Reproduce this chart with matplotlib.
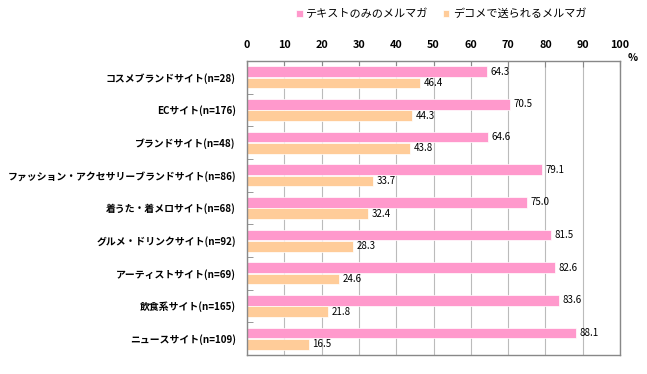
import matplotlib
matplotlib.use("Agg")
import matplotlib.pyplot as plt
import numpy as np

plt.rcParams['font.family'] = ['Noto Sans CJK JP', 'DejaVu Sans']

categories = ["コスメブランドサイト(n=28)", "ECサイト(n=176)", "ブランドサイト(n=48)",
              "ファッション・アクセサリーブランドサイト(n=86)", "着うた・着メロサイト(n=68)",
              "グルメ・ドリンクサイト(n=92)", "アーティストサイト(n=69)",
              "飲食系サイト(n=165)", "ニュースサイト(n=109)"]
text_only = [64.3, 70.5, 64.6, 79.1, 75.0, 81.5, 82.6, 83.6, 88.1]
decome = [46.4, 44.3, 43.8, 33.7, 32.4, 28.3, 24.6, 21.8, 16.5]
series_names = ["テキストのみのメルマガ", "デコメで送られるメルマガ"]
xticks = [0, 10, 20, 30, 40, 50, 60, 70, 80, 90, 100]

pink = "#FF99CC"
orange = "#FFCC99"

fig = plt.figure(figsize=(6.47, 3.74), dpi=100)
ax = fig.add_axes([247/647, 1-355/374, (620-247)/647, (355-61)/374])

n = len(categories)
y = np.arange(n)
h = 0.33
b1 = ax.barh(y - h/2 - 0.01, text_only, height=h, color=pink, edgecolor="white", linewidth=0.5, label=series_names[0])
b2 = ax.barh(y + h/2 + 0.01, decome, height=h, color=orange, edgecolor="white", linewidth=0.5, label=series_names[1])

for yi, v in zip(y, text_only):
    ax.text(v + 1.0, yi - h/2 - 0.01, f"{v:.1f}", va="center", ha="left", fontsize=7)
for yi, v in zip(y, decome):
    ax.text(v + 1.0, yi + h/2 + 0.01, f"{v:.1f}", va="center", ha="left", fontsize=7)

ax.set_xlim(0, 100)
ax.set_ylim(n - 0.5, -0.5)
ax.xaxis.tick_top()
ax.set_xticks(xticks)
ax.set_xticklabels([str(t) for t in xticks], fontsize=7.8, fontweight="bold")
ax.tick_params(axis="x", direction="in", length=4, color="#888888", pad=8)
ax.set_yticks(y)
ax.set_yticklabels(categories, fontsize=7.1, fontweight="bold")
ax.set_yticks(np.arange(n + 1) - 0.5, minor=True)
ax.tick_params(axis="y", which="major", length=0, pad=8)
ax.tick_params(axis="y", which="minor", direction="in", length=4, color="#888888")
ax.grid(axis="x", color="#BBBBBB", linewidth=0.8)
ax.set_axisbelow(True)
for s in ax.spines.values():
    s.set_color("#888888")
    s.set_linewidth(1.0)

fig.text(633/647, 1-58/374, "%", fontsize=7.5, fontweight="bold", ha="center", va="center")

fig.legend(handles=[b1, b2], loc="center", bbox_to_anchor=(441/647, 1-14/374), ncol=2,
           frameon=False, fontsize=8, handlelength=0.6, handleheight=0.6,
           handletextpad=0.3, columnspacing=1.3)

fig.savefig("out.png", dpi=100)
